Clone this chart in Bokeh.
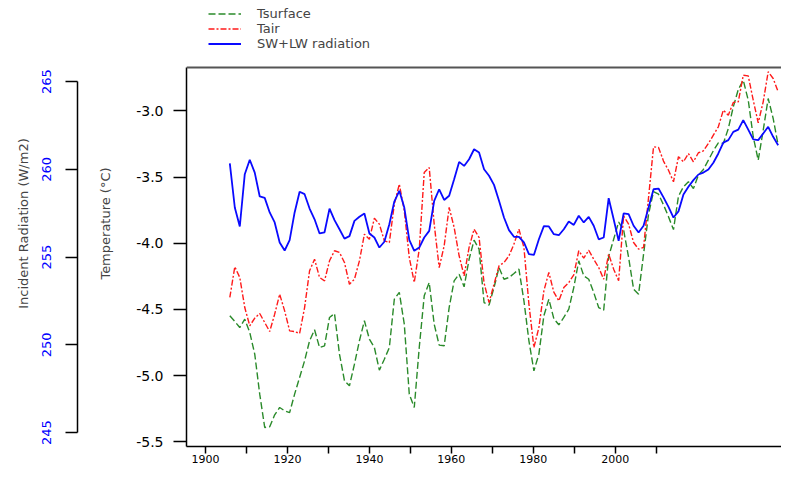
from bokeh.plotting import figure
from bokeh.models import (Range1d, LinearAxis, FixedTicker, PrintfTickFormatter,
                          Legend, LegendItem, Span)
from bokeh.embed import file_html
from bokeh.resources import INLINE

# ---------------- data ----------------
years = list(range(1905, 2016))

tsurface = [
    -4.548, -4.591, -4.637, -4.574, -4.674, -4.838, -5.140, -5.392, -5.387, -5.296,
    -5.241, -5.266, -5.279, -5.140, -5.014, -4.888, -4.737, -4.654, -4.788, -4.775,
    -4.561, -4.531, -4.838, -5.039, -5.077, -4.914, -4.737, -4.586, -4.725, -4.788,
    -4.959, -4.876, -4.788, -4.423, -4.372, -4.612, -5.140, -5.241, -4.788, -4.397,
    -4.297, -4.612, -4.770, -4.775, -4.486, -4.284, -4.234, -4.329, -4.121, -3.977,
    -4.045, -4.448, -4.468, -4.335, -4.184, -4.272, -4.259, -4.229, -4.196, -4.435,
    -4.737, -4.964, -4.838, -4.548, -4.423, -4.570, -4.616, -4.561, -4.498, -4.335,
    -4.133, -4.246, -4.272, -4.372, -4.486, -4.506, -4.100, -3.970, -3.840, -3.900,
    -4.108, -4.347, -4.385, -4.083, -3.781, -3.610, -3.630, -3.710, -3.800, -3.897,
    -3.645, -3.574, -3.536, -3.587, -3.486, -3.443, -3.373, -3.302, -3.242, -3.247,
    -3.134, -2.970, -2.839, -2.769, -2.920, -3.196, -3.373, -3.147, -2.907, -3.058,
    -3.260]

tair = [
    -4.410, -4.178, -4.259, -4.486, -4.624, -4.566, -4.531, -4.599, -4.667, -4.536,
    -4.385, -4.511, -4.662, -4.667, -4.682, -4.486, -4.208, -4.121, -4.259, -4.284,
    -4.133, -4.057, -4.070, -4.146, -4.310, -4.272, -4.133, -3.932, -3.970, -3.811,
    -3.856, -3.982, -3.995, -3.705, -3.554, -3.755, -4.108, -4.297, -4.045, -3.466,
    -3.428, -3.856, -4.184, -4.020, -3.730, -3.881, -4.095, -4.246, -4.032, -3.894,
    -3.957, -4.300, -4.448, -4.310, -4.171, -4.146, -4.095, -4.007, -3.894, -4.032,
    -4.460, -4.788, -4.637, -4.360, -4.221, -4.370, -4.435, -4.335, -4.297, -4.239,
    -4.057, -4.113, -4.053, -4.121, -4.184, -4.272, -4.083, -4.196, -4.284, -3.793,
    -3.856, -3.995, -4.045, -4.032, -3.655, -3.272, -3.277, -3.380, -3.449, -3.536,
    -3.347, -3.385, -3.323, -3.385, -3.317, -3.302, -3.247, -3.184, -3.121, -2.995,
    -3.033, -2.937, -2.932, -2.731, -2.736, -2.920, -3.091, -2.932, -2.705, -2.756,
    -2.856]

radiation = [
    260.33, 257.82, 256.74, 259.72, 260.54, 259.81, 258.45, 258.37, 257.54, 256.97,
    255.83, 255.37, 255.96, 257.54, 258.72, 258.58, 257.76, 257.15, 256.34, 256.41,
    257.76, 257.10, 256.58, 256.05, 256.19, 257.06, 257.29, 257.48, 256.34, 256.11,
    255.54, 255.87, 256.87, 258.16, 258.77, 257.82, 255.98, 255.35, 255.54, 256.11,
    256.49, 258.20, 258.86, 258.25, 258.49, 259.43, 260.42, 260.19, 260.57, 261.14,
    260.95, 260.00, 259.63, 259.11, 258.20, 257.25, 256.53, 256.15, 256.15, 255.83,
    255.16, 255.12, 256.01, 256.76, 256.74, 256.30, 256.24, 256.58, 257.02, 256.83,
    257.35, 256.97, 257.29, 256.78, 256.01, 256.11, 258.35, 257.15, 255.92, 257.48,
    257.44, 256.78, 256.40, 256.78, 257.82, 258.86, 258.90, 258.40, 257.86, 257.25,
    257.60, 258.56, 259.00, 259.38, 259.70, 259.81, 259.99, 260.37, 260.90, 261.52,
    261.66, 262.13, 262.26, 262.80, 262.26, 261.70, 261.66, 262.04, 262.42, 261.85,
    261.37]

year_ticks = [1900, 1920, 1940, 1960, 1980, 2000]
year_minor_ticks = [1910, 1930, 1950, 1970, 1990, 2010]
temp_ticks = [-5.5, -5.0, -4.5, -4.0, -3.5, -3.0]
rad_ticks = [245, 250, 255, 260, 265]

# extent of the temperature axes box (its top border) in degC
temp_axis_bottom = -5.5355
temp_axis_top = -2.673

FONT = "DejaVu Sans"

p = figure(width=781, height=467, output_backend="svg", toolbar_location=None,
           x_range=Range1d(1895.36, 2040.59),
           y_range=Range1d(temp_axis_bottom, -2.1669),
           min_border_left=186, min_border_right=0, min_border_top=0,
           min_border_bottom=21)
p.extra_x_ranges = {"yrs": Range1d(1896.31, 2015.67)}
p.extra_y_ranges = {"rad": Range1d(244.2023, 269.616)}

p.xgrid.visible = False
p.ygrid.visible = False
p.outline_line_color = None
p.background_fill_color = "white"
p.border_fill_color = "white"

# top border of the axes box
p.add_layout(Span(location=temp_axis_top, dimension="width",
                  line_color="#555555", line_width=2))

# x axis
xa = p.xaxis[0]
xa.ticker = FixedTicker(ticks=year_ticks, minor_ticks=year_minor_ticks)
xa.major_tick_out = 7
xa.major_tick_in = 0
xa.minor_tick_out = 7
xa.minor_tick_in = 0
xa.minor_tick_line_color = "black"
xa.minor_tick_line_width = 1.5
xa.major_tick_line_width = 1.5
xa.axis_line_width = 1.5
xa.major_label_standoff = 1
xa.major_label_text_font = FONT
xa.major_label_text_font_size = "11px"
xa.major_label_text_color = "black"

# temperature axis (leading empty line keeps a gap before the radiation axis)
ya = p.yaxis[0]
ya.bounds = (temp_axis_bottom, temp_axis_top)
ya.ticker = FixedTicker(ticks=temp_ticks)
ya.formatter = PrintfTickFormatter(format="%.1f")
ya.major_tick_out = 13
ya.major_tick_in = 0
ya.minor_tick_line_color = None
ya.major_tick_line_width = 1.5
ya.axis_line_width = 1.5
ya.major_label_standoff = 10
ya.major_label_text_font = FONT
ya.major_label_text_font_size = "14px"
ya.major_label_text_color = "black"
ya.axis_label = "\nTemperature (°C)"
ya.axis_label_text_font = FONT
ya.axis_label_text_font_size = "13px"
ya.axis_label_text_font_style = "normal"
ya.axis_label_standoff = 20

# radiation axis
ra = LinearAxis(y_range_name="rad", bounds=(245, 265),
                ticker=FixedTicker(ticks=rad_ticks))
ra.major_tick_out = 12
ra.major_tick_in = 0
ra.minor_tick_line_color = None
ra.major_tick_line_width = 1.5
ra.axis_line_width = 1.5
ra.major_label_orientation = "vertical"
ra.major_label_standoff = 14
ra.major_label_text_font = FONT
ra.major_label_text_font_size = "13px"
ra.major_label_text_color = "#0000ff"
ra.axis_label = "Incident Radiation (W/m2)"
ra.axis_label_text_font = FONT
ra.axis_label_text_font_size = "13px"
ra.axis_label_text_font_style = "normal"
ra.axis_label_standoff = 9
p.add_layout(ra, "left")

# series
r_ts = p.line(years, tsurface, x_range_name="yrs", line_color="#2a8a2a",
              line_width=1.4, line_dash="7 3")
r_ta = p.line(years, tair, x_range_name="yrs", line_color="#ff1a1a",
              line_width=1.4, line_dash="6 2 2 2")
r_rad = p.line(years, radiation, x_range_name="yrs", y_range_name="rad",
               line_color="#0a0aff", line_width=1.8)

legend = Legend(items=[LegendItem(label="Tsurface", renderers=[r_ts]),
                       LegendItem(label="Tair", renderers=[r_ta]),
                       LegendItem(label="SW+LW radiation", renderers=[r_rad])],
                location=(22, 395), orientation="vertical", padding=0, spacing=0,
                margin=0, glyph_width=33, glyph_height=15, label_height=15,
                label_standoff=16, label_text_font=FONT, label_text_font_size="13px",
                border_line_color=None, background_fill_alpha=0)
p.add_layout(legend)

open("out.html", "w").write(file_html(p, INLINE))
